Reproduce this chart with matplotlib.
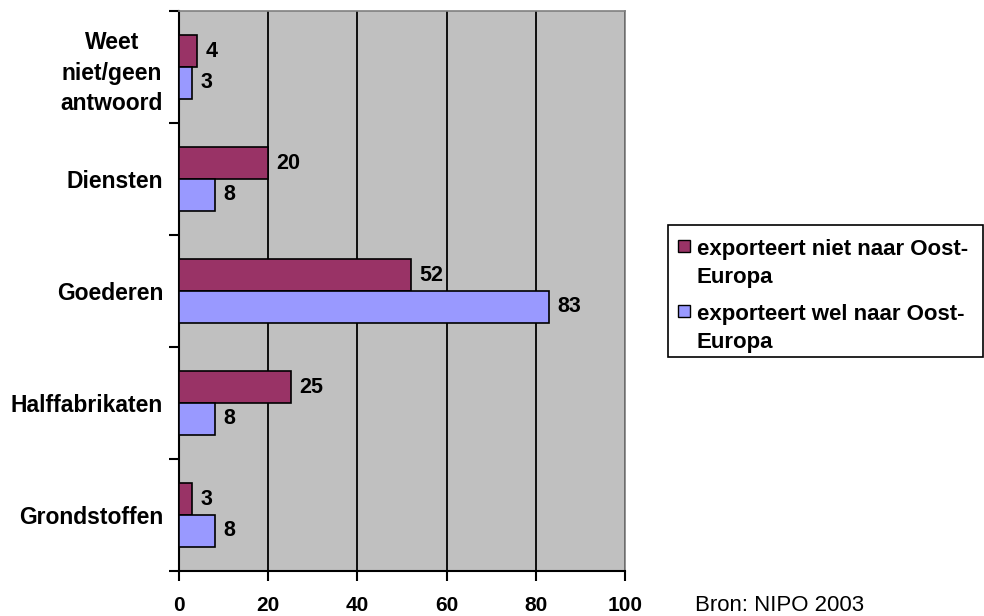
import numpy as np
import matplotlib.pyplot as plt
import matplotlib.patches as mpatches

plt.rcParams['font.family'] = ['Liberation Sans', 'DejaVu Sans']

# categories from bottom to top
categories = ["Grondstoffen", "Halffabrikaten", "Goederen", "Diensten",
              "Weet\nniet/geen\nantwoord"]
niet_oost = [3, 25, 52, 20, 4]   # exporteert niet naar Oost-Europa
wel_oost = [8, 8, 83, 8, 3]      # exporteert wel naar Oost-Europa

series_labels = ["exporteert niet naar Oost-\nEuropa",
                 "exporteert wel naar Oost-\nEuropa"]
maroon = "#993366"
lilac = "#9999FF"

W, H = 984, 616
fig = plt.figure(figsize=(W / 100, H / 100), dpi=100)
ax = fig.add_axes([179 / W, 1 - 571 / H, (625 - 179) / W, (571 - 11) / H])
ax.set_facecolor("#C0C0C0")

y = np.arange(len(categories))
h = 0.285
ax.barh(y + h / 2, niet_oost, height=h, color=maroon, edgecolor="black", linewidth=1.2, zorder=3)
ax.barh(y - h / 2, wel_oost, height=h, color=lilac, edgecolor="black", linewidth=1.2, zorder=3)

for yi, v in zip(y, niet_oost):
    ax.annotate(str(v), (v, yi + h / 2), xytext=(6, 0), textcoords="offset points",
                va="center", ha="left", fontsize=15.5, fontweight="bold")
for yi, v in zip(y, wel_oost):
    ax.annotate(str(v), (v, yi - h / 2), xytext=(6, 0), textcoords="offset points",
                va="center", ha="left", fontsize=15.5, fontweight="bold")

ax.set_xlim(0, 100)
ax.set_ylim(-0.5, len(categories) - 0.5)
ax.set_xticks(np.arange(0, 101, 20))
ax.tick_params(axis="x", direction="out", length=7, width=1.5, pad=11, labelsize=15)
for lab in ax.get_xticklabels():
    lab.set_fontweight("bold")

# ticks between the groups, labels at the group centres
ax.set_yticks(np.arange(-0.5, len(categories), 1.0))
ax.set_yticklabels([])
ax.set_yticks(y, minor=True)
ax.set_yticklabels(categories, minor=True, fontsize=16.5, fontweight="bold",
                   multialignment="center", linespacing=1.42)
ax.tick_params(axis="y", which="major", direction="out", length=7, width=1.5)
ax.tick_params(axis="y", which="minor", length=0, pad=11.5)

ax.xaxis.grid(True, color="black", linewidth=1.3)
ax.set_axisbelow(True)
for s in ["left", "bottom"]:
    ax.spines[s].set_color("black")
    ax.spines[s].set_linewidth(1.5)
for s in ["top", "right"]:
    ax.spines[s].set_color("#808080")
    ax.spines[s].set_linewidth(1.2)

# legend box drawn in pixel positions of the figure
def fx(px):
    return px / W

def fy(py):
    return 1 - py / H

fig.add_artist(mpatches.Rectangle((fx(668), fy(357)), fx(983) - fx(668), fy(225) - fy(357),
                                  transform=fig.transFigure, facecolor="white",
                                  edgecolor="black", linewidth=1.2))
for i, (lab, col) in enumerate(zip(series_labels, [maroon, lilac])):
    top = 240 + i * 65
    fig.add_artist(mpatches.Rectangle((fx(678), fy(top + 12)), fx(690) - fx(678), fy(top) - fy(top + 12),
                                      transform=fig.transFigure, facecolor=col,
                                      edgecolor="black", linewidth=1))
    fig.text(fx(697), fy(top - 1), lab, ha="left", va="top", fontsize=16,
             fontweight="bold", linespacing=1.45)

fig.text(fx(695), fy(611), "Bron: NIPO 2003", ha="left", va="baseline", fontsize=16)

fig.savefig("out.png", dpi=100)
